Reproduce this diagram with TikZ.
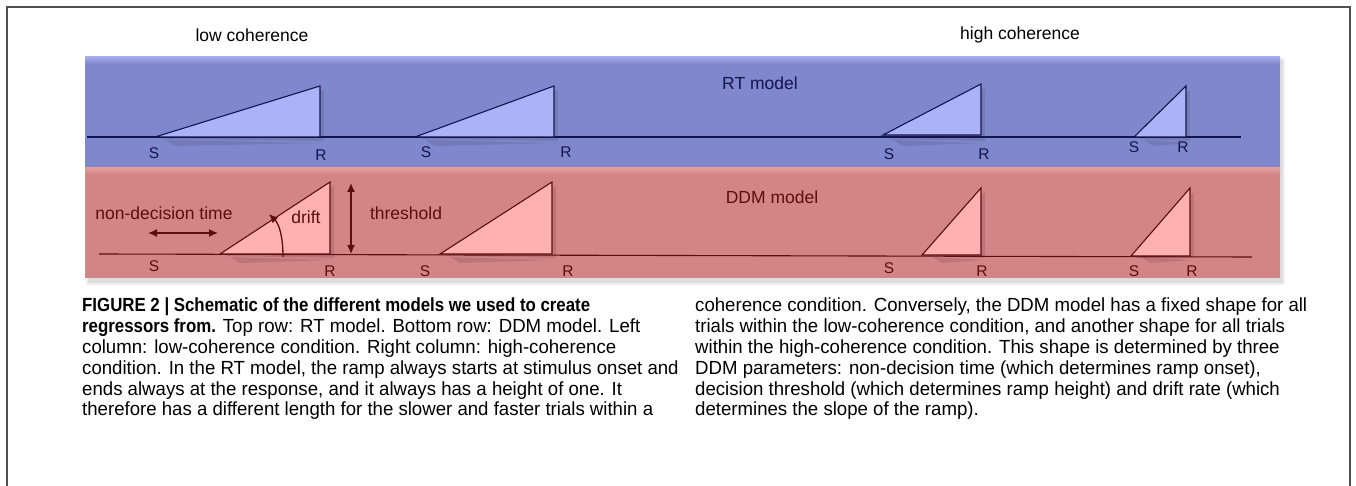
\documentclass[tikz,border=0pt]{standalone}
\usepackage{fontspec}
\setmainfont{Liberation Sans}
\newfontfamily\capfont[FakeStretch=0.98,BoldFeatures={FakeStretch=0.886}]{Liberation Sans}
\usetikzlibrary{arrows.meta}
\definecolor{blueband}{HTML}{7F88CC}
\definecolor{bluetop}{HTML}{A3ABEA}
\definecolor{bluetri}{HTML}{AAB3F7}
\definecolor{navy}{HTML}{14144E}
\definecolor{redband}{HTML}{D38484}
\definecolor{redtop}{HTML}{E29C9C}
\definecolor{redtri}{HTML}{FFB0B0}
\definecolor{maroon}{HTML}{5C0E0E}
\definecolor{framegray}{HTML}{505050}
\tikzset{
  head/.style={font=\fontsize{17.5}{20}\selectfont, text=black},
  bluelbl/.style={font=\fontsize{17.5}{20}\selectfont, text=navy},
  redlbl/.style={font=\fontsize{17.5}{20}\selectfont, text=maroon},
  bsr/.style={font=\fontsize{15.5}{18}\selectfont, text=navy, inner sep=0pt},
  rsr/.style={font=\fontsize{15.5}{18}\selectfont, text=maroon, inner sep=0pt},
  btri/.style={draw=navy, fill=bluetri, line width=1.1pt, line join=miter},
  rtri/.style={draw=maroon, fill=redtri, line width=1.1pt, line join=miter},
  bline/.style={draw=navy, line width=1.1pt},
  rline/.style={draw=maroon, line width=1.1pt},
  tshadow/.style={fill=black, opacity=0.10},
  darr/.style={draw=maroon, line width=1.3pt, {Latex[length=9pt,width=8pt]}-{Latex[length=9pt,width=8pt]}},
  sarr/.style={draw=maroon, line width=1.3pt, -{Latex[length=9pt,width=8pt]}},
  caption/.style={font=\capfont\fontsize{19}{20.8}\selectfont, align=left, anchor=north west, inner sep=0pt, text=black}
}
\begin{document}
\begin{tikzpicture}[x=1pt,y=-1pt]
\useasboundingbox (0,0) rectangle (1356,486);
\fill[white] (0,0) rectangle (1356,486);
\draw[framegray, line width=1.2pt] (7,486) -- (7,7) -- (1350,7) -- (1350,486);

% band shadows
\fill[black, opacity=0.08] (88,60) rectangle (1283,283);
\fill[black, opacity=0.06] (86,58) rectangle (1285,285);

% blue band
\fill[blueband] (85,57) rectangle (1280,167);
\shade[top color=bluetop, bottom color=blueband] (85,57) rectangle (1280,64);
% red band
\fill[redband] (85,168) rectangle (1280,278);
\shade[top color=redtop, bottom color=redband] (85,168) rectangle (1280,175);

% column headings
\node[head] (low) at (252,35) {low coherence};
\node[head] (high) at (1020,35) {high coherence};
\node[bluelbl] (rt) at (760,83) {RT model};
\node[redlbl] (ddm) at (772,197) {DDM model};

% ---------- RT row ----------
\foreach \a/\b/\t in {155/320/86, 415/554/86, 883/981/84, 1134/1186/86}{
  \fill[tshadow] (\a+6,139) -- (\b+4,\t+4) -- (\b+4,141) -- cycle;
  \fill[tshadow] (\a+10,140) -- (\b+2,143) -- (\a+20,146) -- cycle;
}
\draw[bline] (87,137) -- (1241,137);
\draw[btri] (155,137) -- (320,86) -- (320,137) -- cycle;
\draw[btri] (415,137) -- (554,86) -- (554,137) -- cycle;
\draw[btri] (883,135) -- (981,84) -- (981,135) -- cycle;
\draw[btri] (1134,137) -- (1186,86) -- (1186,137) -- cycle;

\node[bsr] (bs1) at (154,153) {S};
\node[bsr] (br1) at (321,155) {R};
\node[bsr] (bs2) at (426,152) {S};
\node[bsr] (br2) at (566,152) {R};
\node[bsr] (bs3) at (889,154) {S};
\node[bsr] (br3) at (984,154) {R};
\node[bsr] (bs4) at (1134,147) {S};
\node[bsr] (br4) at (1183,147) {R};

% ---------- DDM row ----------
\foreach \a/\b/\t in {220/330/182, 440/552/182, 922/981/188, 1131/1190/188}{
  \fill[tshadow] (\a+6,256) -- (\b+4,\t+4) -- (\b+4,258) -- cycle;
  \fill[tshadow] (\a+10,257) -- (\b+2,260) -- (\a+20,263) -- cycle;
}
\draw[rline] (99,254) -- (1252,257);
\draw[rtri] (220,254) -- (330,182) -- (330,254) -- cycle;
\draw[rtri] (440,254) -- (552,182) -- (552,254) -- cycle;
\draw[rtri] (922,255) -- (981,188) -- (981,255) -- cycle;
\draw[rtri] (1131,256) -- (1190,188) -- (1190,256) -- cycle;

\node[rsr] (rs1) at (154,266) {S};
\node[rsr] (rr1) at (330,271) {R};
\node[rsr] (rs2) at (425,271) {S};
\node[rsr] (rr2) at (568,271) {R};
\node[rsr] (rs3) at (889,268) {S};
\node[rsr] (rr3) at (982,271) {R};
\node[rsr] (rs4) at (1134,271) {S};
\node[rsr] (rr4) at (1192,271) {R};

% annotations
\node[redlbl] (ndt) at (164,213) {non-decision time};
\coordinate (ndtL) at (148,233);
\coordinate (ndtR) at (218,233);
\draw[darr] (ndtL) -- (ndtR);

\node[redlbl] (drift) at (306,217) {drift};
\coordinate (driftS) at (283,257);
\coordinate (driftE) at (269,214);
\draw[sarr] (driftS) .. controls (283,236) and (279,224) .. (driftE);

\node[redlbl] (thr) at (406,213) {threshold};
\coordinate (thrT) at (351,183);
\coordinate (thrB) at (351,254);
\draw[darr] (thrT) -- (thrB);

% ---------- caption ----------
\node[caption] (capL) at (82,298) {\textbf{FIGURE 2 | Schematic of the different models we used to create}\\
\textbf{regressors from.} Top row: RT model. Bottom row: DDM model. Left\\
column: low-coherence condition. Right column: high-coherence\\
condition. In the RT model, the ramp always starts at stimulus onset and\\
ends always at the response, and it always has a height of one. It\\
therefore has a different length for the slower and faster trials within a};
\node[caption] (capR) at (695,298) {coherence condition. Conversely, the DDM model has a fixed shape for all\\
trials within the low-coherence condition, and another shape for all trials\\
within the high-coherence condition. This shape is determined by three\\
DDM parameters: non-decision time (which determines ramp onset),\\
decision threshold (which determines ramp height) and drift rate (which\\
determines the slope of the ramp).};
\end{tikzpicture}
\end{document}
